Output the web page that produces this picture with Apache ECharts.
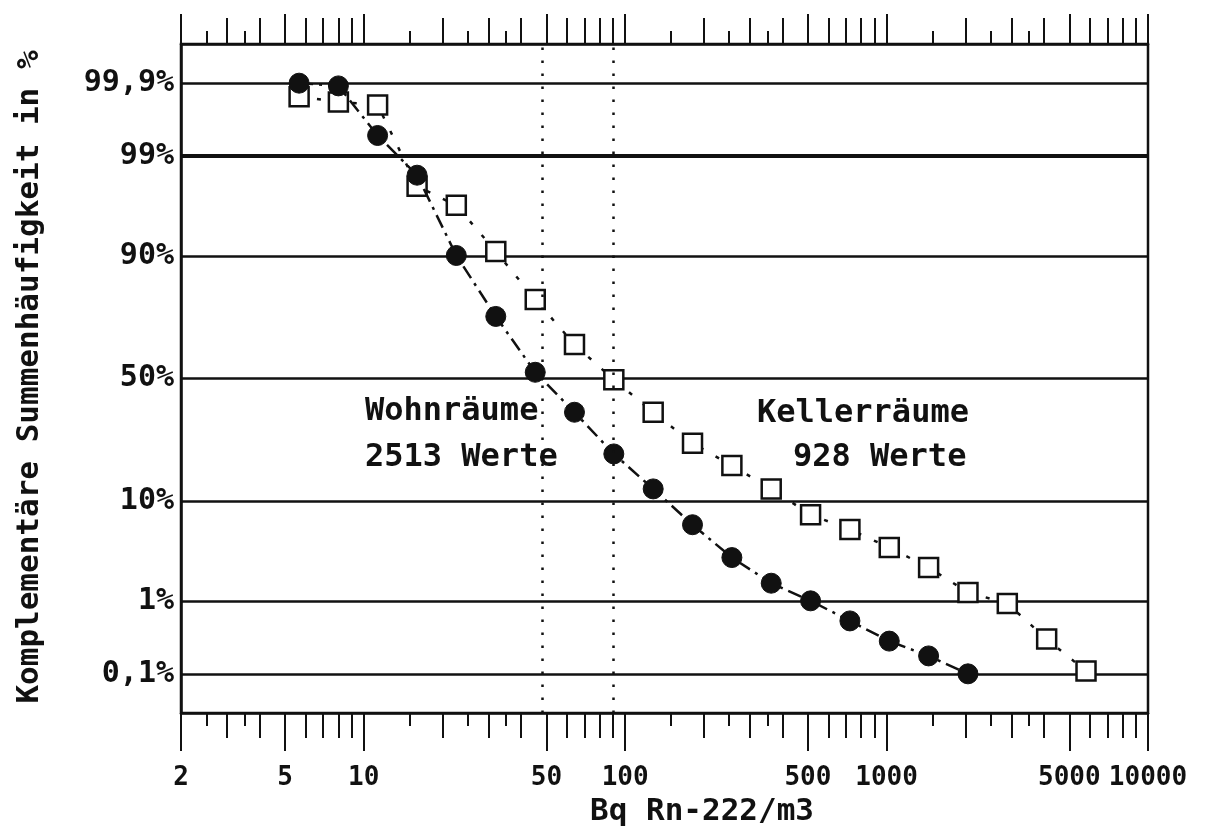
<!DOCTYPE html>
<html>
<head>
<meta charset="utf-8">
<script src="https://cdn.jsdelivr.net/npm/echarts@6/dist/echarts.min.js"></script>
<style>
html,body{margin:0;padding:0;background:#fff;}
#chart{width:1208px;height:829px;}
</style>
</head>
<body>
<div id="chart"></div>
<script>
// ---- data ----
const xBins = [5.66, 8, 11.3, 16, 22.6, 32, 45.3, 64, 90.5, 128, 181, 256, 362, 512, 724, 1024, 1448, 2048, 2896, 4096, 5793];
const wohnPct = [99.90, 99.89, 99.45, 98.33, 90.1, 74.2, 52.6, 36.2, 21.5, 12.4, 6.3, 3.05, 1.61, 1.0, 0.56, 0.30, 0.185, 0.10];
const kellerPct = [99.84, 99.81, 99.79, 97.79, 96.5, 90.8, 79.6, 63.9, 49.5, 36.2, 24.9, 18.1, 12.4, 7.7, 5.7, 3.85, 2.40, 1.26, 0.93, 0.32, 0.11];
const medianX = [48, 90];

const xLabelValues = [2, 5, 10, 50, 100, 500, 1000, 5000, 10000];
const tickLong = [2, 5, 10, 50, 100, 500, 1000, 5000, 10000];
const tickMed = [3, 4, 6, 7, 8, 9, 20, 30, 40, 60, 70, 80, 90, 200, 300, 400, 600, 700, 800, 900, 2000, 3000, 4000, 6000, 7000, 8000, 9000];
const tickShort = [2.5, 3.5, 15, 25, 35, 150, 250, 350, 1500, 2500, 3500];

const yTickPercents = [0.1, 1, 10, 50, 90, 99, 99.9];
const yTickLabels = ['0,1%', '1%', '10%', '50%', '90%', '99%', '99,9%'];

// ---- normal-probability axis transform (inverse normal CDF, Acklam) ----
function probit(pct) {
  const p = pct / 100;
  const a = [-3.969683028665376e+01, 2.209460984245205e+02, -2.759285104469687e+02, 1.383577518672690e+02, -3.066479806614716e+01, 2.506628277459239e+00];
  const b = [-5.447609879822406e+01, 1.615858368580409e+02, -1.556989798598866e+02, 6.680131188771972e+01, -1.328068155288572e+01];
  const c = [-7.784894002430293e-03, -3.223964580411365e-01, -2.400758277161838e+00, -2.549732539343734e+00, 4.374664141464968e+00, 2.938163982698783e+00];
  const d = [7.784695709041462e-03, 3.224671290700398e-01, 2.445134137142996e+00, 3.754408661907416e+00];
  const pl = 0.02425, ph = 1 - pl;
  let q, r;
  if (p < pl) {
    q = Math.sqrt(-2 * Math.log(p));
    return (((((c[0]*q+c[1])*q+c[2])*q+c[3])*q+c[4])*q+c[5]) / ((((d[0]*q+d[1])*q+d[2])*q+d[3])*q+1);
  }
  if (p > ph) {
    q = Math.sqrt(-2 * Math.log(1 - p));
    return -(((((c[0]*q+c[1])*q+c[2])*q+c[3])*q+c[4])*q+c[5]) / ((((d[0]*q+d[1])*q+d[2])*q+d[3])*q+1);
  }
  q = p - 0.5; r = q * q;
  return (((((a[0]*r+a[1])*r+a[2])*r+a[3])*r+a[4])*r+a[5])*q / (((((b[0]*r+b[1])*r+b[2])*r+b[3])*r+b[4])*r+1);
}

const yTickZ = yTickPercents.map(probit);
function yLabel(v) {
  let best = 0, bd = Infinity;
  yTickZ.forEach((z, i) => { const dd = Math.abs(z - v); if (dd < bd) { bd = dd; best = i; } });
  return yTickLabels[best];
}

const FONT = 'DejaVu Sans Mono';
const INK = '#111';

function makeX(position, len, ticks, showLine, showLabel) {
  return {
    type: 'log', logBase: 10, min: 2, max: 10000, position: position,
    gridIndex: 0,
    axisLine: { show: showLine, onZero: false, lineStyle: { color: INK, width: 2.5 } },
    axisTick: { show: true, inside: false, length: len, customValues: ticks, lineStyle: { color: INK, width: 2 } },
    axisLabel: showLabel ? {
      show: true, customValues: xLabelValues, margin: 52, color: INK,
      fontFamily: FONT, fontWeight: 'bold', fontSize: 26,
      formatter: v => String(Math.round(v))
    } : { show: false },
    splitLine: { show: false },
    minorTick: { show: false }, minorSplitLine: { show: false }
  };
}

const chart = echarts.init(document.getElementById('chart'), null, { renderer: 'canvas' });

const option = {
  backgroundColor: '#fff',
  animation: false,
  grid: { left: 181, right: 60, top: 44, bottom: 116, show: true, borderColor: INK, borderWidth: 2.5, backgroundColor: 'transparent' },
  xAxis: [
    makeX('bottom', 38, tickLong, true, true),
    makeX('bottom', 25, tickMed, false, false),
    makeX('bottom', 13, tickShort, false, false),
    makeX('top', 30, tickLong, true, false),
    makeX('top', 26, tickMed, false, false),
    makeX('top', 13, tickShort, false, false)
  ],
  yAxis: [{
    type: 'value', min: -3.5, max: 3.5,
    axisLine: { show: true, lineStyle: { color: INK, width: 2.5 } },
    axisTick: { show: false, customValues: yTickZ },
    axisLabel: {
      show: true, customValues: yTickZ, margin: 7, color: INK,
      fontFamily: FONT, fontWeight: 'bold', fontSize: 30,
      formatter: v => yLabel(v)
    },
    splitLine: { show: true, lineStyle: { color: INK, width: 2.5 } }
  }],
  series: [
    {
      name: 'Kellerräume', type: 'line', xAxisIndex: 0, yAxisIndex: 0, z: 3,
      data: xBins.slice(0, kellerPct.length).map((x, i) => [x, probit(kellerPct[i])]),
      symbol: 'rect', symbolSize: 19,
      itemStyle: { color: '#fff', borderColor: INK, borderWidth: 2.5 },
      lineStyle: { color: INK, width: 2.5, type: [4, 14] }
    },
    {
      name: 'Wohnräume', type: 'line', xAxisIndex: 0, yAxisIndex: 0, z: 4,
      data: xBins.slice(0, wohnPct.length).map((x, i) => [x, probit(wohnPct[i])]),
      symbol: 'circle', symbolSize: 20,
      itemStyle: { color: INK, borderColor: INK, borderWidth: 1 },
      lineStyle: { color: INK, width: 2.5, type: [14, 6, 3, 6] },
      markLine: {
        silent: true, symbol: ['none', 'none'], label: { show: false },
        data: [
          { xAxis: medianX[0], lineStyle: { color: INK, width: 2.5, type: [2.5, 10.5] } },
          { xAxis: medianX[1], lineStyle: { color: INK, width: 2.5, type: [2.5, 10.5] } },
          { yAxis: probit(99), lineStyle: { color: INK, width: 4, type: 'solid' } }
        ]
      }
    }
  ],
  graphic: [
    { type: 'text', x: 30, y: 377, rotation: Math.PI / 2,
      style: { text: 'Komplementäre Summenhäufigkeit in %', fill: INK, font: 'bold 31px "DejaVu Sans Mono"', textAlign: 'center', textVerticalAlign: 'middle' } },
    { type: 'text', x: 702, y: 812,
      style: { text: 'Bq Rn-222/m3', fill: INK, font: 'bold 31px "DejaVu Sans Mono"', textAlign: 'center', textVerticalAlign: 'middle' } },
    { type: 'text', x: 365, y: 412,
      style: { text: 'Wohnräume', fill: INK, font: 'bold 32px "DejaVu Sans Mono"', textAlign: 'left', textVerticalAlign: 'middle' } },
    { type: 'text', x: 365, y: 458,
      style: { text: '2513 Werte', fill: INK, font: 'bold 32px "DejaVu Sans Mono"', textAlign: 'left', textVerticalAlign: 'middle' } },
    { type: 'text', x: 757, y: 414,
      style: { text: 'Kellerräume', fill: INK, font: 'bold 32px "DejaVu Sans Mono"', textAlign: 'left', textVerticalAlign: 'middle' } },
    { type: 'text', x: 793, y: 458,
      style: { text: '928 Werte', fill: INK, font: 'bold 32px "DejaVu Sans Mono"', textAlign: 'left', textVerticalAlign: 'middle' } }
  ]
};
chart.setOption(option);
</script>
</body>
</html>
